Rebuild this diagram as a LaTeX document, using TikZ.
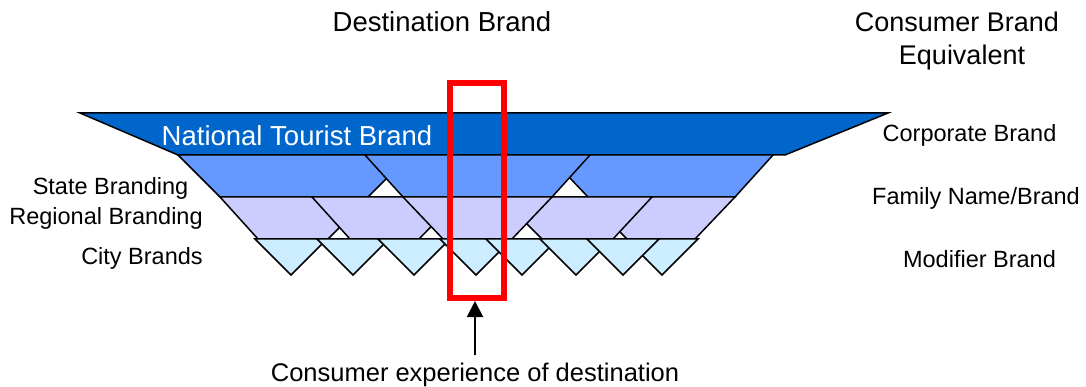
\documentclass[tikz,border=0pt]{standalone}
\usepackage{fontspec}
\setmainfont{Liberation Sans}
\usetikzlibrary{arrows.meta}

\definecolor{national}{HTML}{0066CC}
\definecolor{state}{HTML}{6699FF}
\definecolor{regional}{HTML}{CCCCFF}
\definecolor{city}{HTML}{CCECFF}

\begin{document}
\begin{tikzpicture}[
		x=1pt, y=-1pt,
		band/.style={draw, line width=1.5pt},
		hd/.style={font=\fontsize{27.5}{33}\selectfont, inner sep=0, anchor=base},
		lbl/.style={font=\fontsize{23.5}{28}\selectfont, inner sep=0, anchor=base},
		a/.style={-{Triangle[width=16pt, length=16pt]}, line width=2pt},
	]
		\useasboundingbox (0,0) rectangle (1086,387);

		% national level
		\filldraw[band, fill=national] (80,113) -- (888,113) -- (785,155) -- (178,155) -- cycle;
		% state level
		\foreach \a/\b/\c/\d in {178/410/368/220, 548/773/735/588, 365/590/552/403}
			\filldraw[band, fill=state] (\a,155) -- (\b,155) -- (\c,197) -- (\d,197) -- cycle;
		% regional level
		\foreach \a/\b/\c/\d in {220/370/328/258, 312/460/419/350, 585/735/695/627, 500/652/613/542, 403/552/512/443}
			\filldraw[band, fill=regional] (\a,197) -- (\b,197) -- (\c,239) -- (\d,239) -- cycle;
		% city level
		\foreach \x in {291,353,414,476,522,576,662,623}
			\filldraw[band, fill=city] (\x-36,239) -- (\x+36,239) -- (\x,275) -- cycle;

		\node[hd, text=white] (NTB) at (297,146) {National Tourist Brand};

		\node[hd] (Dest) at (442,32) {Destination Brand};
		\node[hd, font=\fontsize{27}{33}\selectfont] (Cons) at (957,32) {Consumer Brand};
		\node[hd, font=\fontsize{27}{33}\selectfont] (Equiv) at (962,65) {Equivalent};

		\node[lbl] (State) at (110.5,195) {State Branding};
		\node[lbl] (Region) at (106,225) {Regional Branding};
		\node[lbl] (City) at (142,265) {City Brands};

		\node[lbl] (Corp) at (969.5,142) {Corporate Brand};
		\node[lbl] (Family) at (976,205) {Family Name/Brand};
		\node[lbl] (Modifier) at (979.5,267) {Modifier Brand};

		\node[draw=red, line width=6pt, minimum width=54pt, minimum height=214.5pt, inner sep=0] (Focus) at (477,190.75) {};
		\node[lbl, font=\fontsize{25.5}{30}\selectfont] (Exp) at (475,381) {Consumer experience of destination};

		\draw[a, shorten <=7pt] (Exp.north) -- (Exp.north |- Focus.south);
	\end{tikzpicture}
\end{document}
